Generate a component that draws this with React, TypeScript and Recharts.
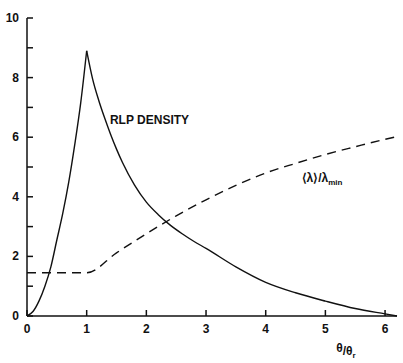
import { LineChart, Line, XAxis, YAxis, ReferenceDot } from 'recharts';

// RLP density curve (solid) - rises to a cusp at 1, then decays
const densityX = [0, 0.1, 0.2, 0.3, 0.4, 0.5, 0.6, 0.7, 0.8, 0.9, 1, 1.1, 1.2, 1.3, 1.4, 1.5, 1.6, 1.8, 2, 2.2, 2.4, 2.6, 2.8, 3, 3.5, 4, 4.5, 5, 5.5, 6, 6.2];
const densityY = [0, 0.15, 0.5, 1.0, 1.65, 2.55, 3.45, 4.5, 5.75, 7.15, 8.9, 7.95, 7.25, 6.65, 6.1, 5.6, 5.15, 4.4, 3.82, 3.4, 3.05, 2.76, 2.5, 2.27, 1.65, 1.13, 0.78, 0.5, 0.25, 0.07, 0];

// <lambda>/lambda_min curve (dashed)
const ratioX = [0, 1, 1.5, 2, 2.5, 3, 3.5, 4, 4.5, 5, 5.5, 6, 6.2];
const ratioY = [1.45, 1.45, 2.12, 2.76, 3.36, 3.9, 4.38, 4.8, 5.12, 5.42, 5.68, 5.93, 6.02];

const xTicks = [0, 1, 2, 3, 4, 5, 6];
const yTicks = [0, 1, 2, 3, 4, 5, 6, 7, 8, 9, 10];

const density = densityX.map((x, i) => ({ x, y: densityY[i] }));
const densityRise = density.filter((p) => p.x <= 1);
const densityFall = density.filter((p) => p.x >= 1);
const ratio = ratioX.map((x, i) => ({ x, y: ratioY[i] }));

const INK = '#111';
const FONT = '"Liberation Sans", Arial, sans-serif';

const XTickText = (props: any) => {
  const { x, y, payload } = props;
  return (
    <text x={x} y={y + 13} textAnchor="middle" fontFamily={FONT} fontWeight="bold" fontSize={12} fill={INK}>
      {payload.value}
    </text>
  );
};

const YTickText = (props: any) => {
  const { x, y, payload } = props;
  if (payload.value % 2 !== 0) return <g />;
  return (
    <text x={x} y={y + 4} textAnchor="end" fontFamily={FONT} fontWeight="bold" fontSize={12} fill={INK}>
      {payload.value}
    </text>
  );
};

const RatioLabel = (props: any) => {
  const { viewBox } = props;
  return (
    <text x={viewBox.x} y={viewBox.y + 5} fontFamily={FONT} fontWeight="bold" fontSize={12} fill={INK}>
      ⟨λ⟩/λ<tspan fontSize={8} dy={3}>min</tspan>
    </text>
  );
};

const AxisTitle = (props: any) => {
  const { viewBox } = props;
  return (
    <text x={viewBox.x} y={viewBox.y} fontFamily={FONT} fontWeight="bold" fontSize={12} fill={INK}>
      <tspan dy={-3}>θ</tspan><tspan dy={3}>/θ</tspan><tspan fontSize={8} dy={3}>r</tspan>
    </text>
  );
};

export default function App() {
  return (
    <div style={{ position: 'absolute', left: 0, top: 0, background: '#fff' }}>
      <LineChart width={403} height={363} margin={{ top: 18, right: 6, bottom: 0, left: 0 }}>
        <XAxis
          dataKey="x"
          type="number"
          domain={[0, 6.2]}
          ticks={xTicks}
          stroke={INK}
          axisLine={{ stroke: INK, strokeWidth: 1.5 }}
          tickLine={{ stroke: INK, strokeWidth: 1.5 }}
          tickSize={-6}
          tickMargin={10}
          height={47}
          tick={<XTickText />}
        />
        <YAxis
          type="number"
          domain={[0, 10]}
          ticks={yTicks}
          interval={0}
          stroke={INK}
          axisLine={{ stroke: INK, strokeWidth: 1.5 }}
          tickLine={{ stroke: INK, strokeWidth: 1.5 }}
          tickSize={-6}
          tickMargin={14}
          width={27}
          tick={<YTickText />}
        />
        <Line data={densityRise} dataKey="y" type="monotone" stroke={INK} strokeWidth={1.4} dot={false} isAnimationActive={false} />
        <Line data={densityFall} dataKey="y" type="monotone" stroke={INK} strokeWidth={1.4} dot={false} isAnimationActive={false} />
        <Line data={ratio} dataKey="y" type="monotone" stroke={INK} strokeWidth={1.4} strokeDasharray="9 6" dot={false} isAnimationActive={false} />
        <ReferenceDot
          x={1.39}
          y={6.58}
          r={0}
          ifOverflow="visible"
          label={{ value: 'RLP DENSITY', position: 'right', offset: 0, fontFamily: FONT, fontWeight: 'bold', fontSize: 12, fill: INK }}
        />
        <ReferenceDot x={4.6} y={4.66} r={0} ifOverflow="visible" label={<RatioLabel />} />
        <ReferenceDot x={5.18} y={-1.3} r={0} ifOverflow="visible" label={<AxisTitle />} />
      </LineChart>
    </div>
  );
}
